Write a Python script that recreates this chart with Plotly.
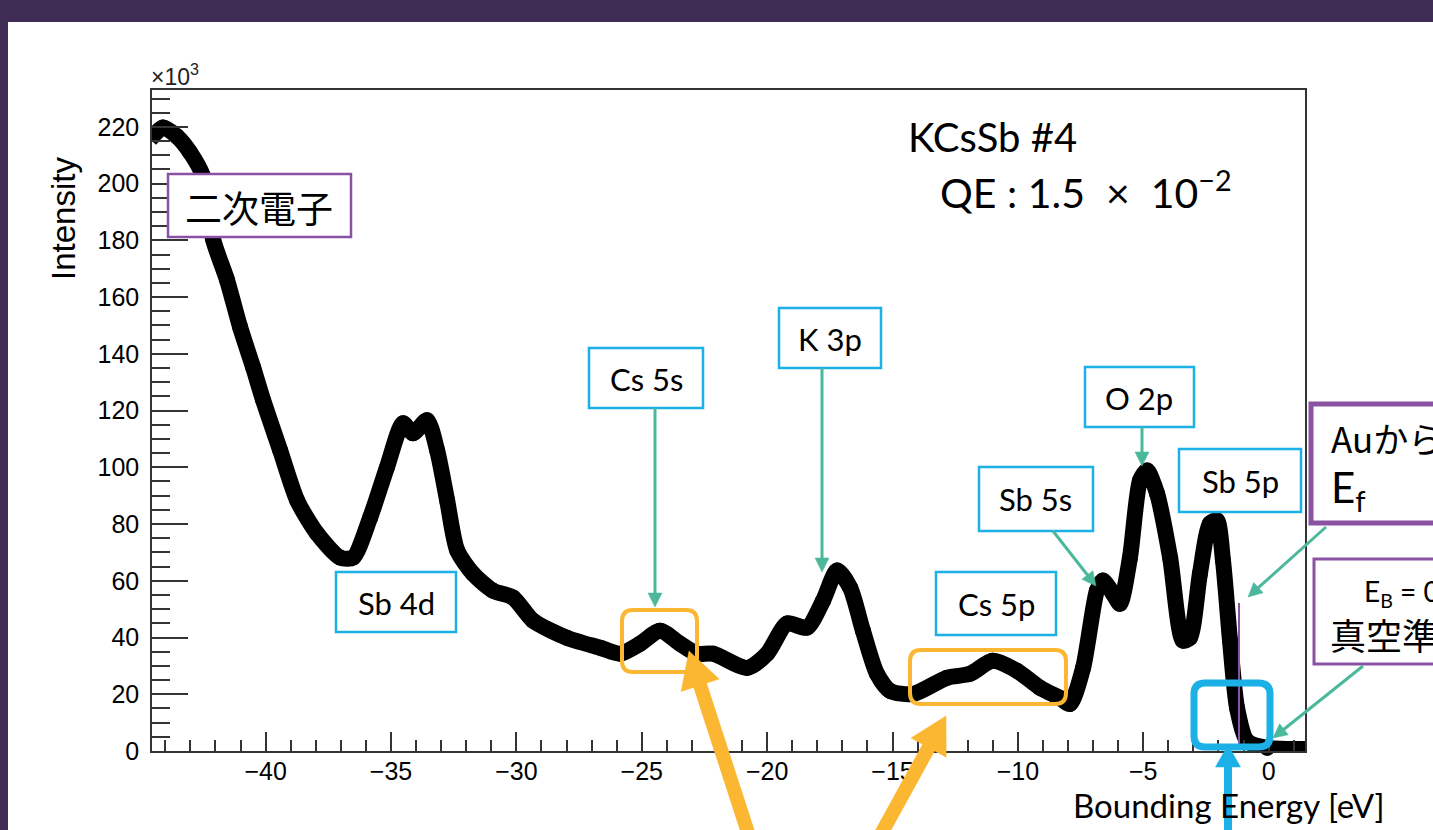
import plotly.graph_objects as go

# ---- data (binding energy [eV], intensity [x10^3]) ----
energy = [-44.61, -44.09, -43.53, -43.01, -42.49, -42.09, -41.54, -41.02, -40.50, -40.10,
          -39.42, -38.74, -37.95, -37.03, -36.51, -35.83, -35.16, -34.52, -34.12, -33.56,
          -33.16, -32.76, -32.36, -31.73, -30.93, -30.13, -29.33, -27.98, -26.66, -25.86,
          -25.07, -24.27, -23.47, -22.80, -22.16, -20.80, -20.00, -19.21, -18.41, -17.77,
          -17.21, -16.69, -16.18, -15.62, -15.10, -14.18, -12.83, -11.91, -11.01, -10.04,
          -9.12, -8.32, -7.92, -7.40, -6.85, -6.61, -6.21, -5.93, -5.53, -5.13,
          -4.85, -4.45, -3.93, -3.42, -3.14, -2.74, -2.34, -2.06, -1.82, -1.54,
          -1.26, -0.86, -0.06, 1.53]
intensity = [215.5, 219.8, 216.6, 211.0, 202.5, 180.2, 166.1, 149.5, 135.3, 123.7,
             106.0, 88.3, 76.7, 68.2, 68.2, 82.3, 100.0, 115.5, 112.0, 116.6,
             106.0, 88.3, 70.7, 62.5, 56.5, 54.1, 45.9, 39.9, 36.4, 34.3,
             37.8, 42.4, 37.8, 34.3, 34.3, 29.3, 34.3, 44.9, 43.5, 53.0,
             63.6, 57.6, 42.4, 27.2, 21.2, 20.1, 25.8, 27.2, 31.8, 28.3,
             22.3, 18.7, 16.6, 29.3, 56.5, 60.1, 55.5, 51.9, 68.2, 95.4,
             98.9, 90.8, 68.2, 38.9, 39.9, 62.5, 80.2, 81.3, 67.1, 38.9,
             15.2, 3.5, 1.1, 0.7]

x_ticks = [-40, -35, -30, -25, -20, -15, -10, -5, 0]
y_ticks = [0, 20, 40, 60, 80, 100, 120, 140, 160, 180, 200, 220]
x_range = [-44.53, 1.45]
y_range = [0, 233]

# ---- layout geometry (pixels) ----
W, H = 1433, 830
L, R, T, B = 152, 1305, 90, 751


def px(x):
    return (x - L) / (R - L)


def py(y):
    return (B - y) / (B - T)


ORANGE = "#FBB731"
CYAN = "#1BB0E6"
TEAL = "#4BB89B"
PURPLE = "#8A52A2"
TXT_FONT = "Lato"
CJK = "Noto Sans CJK JP"

fig = go.Figure()
fig.add_trace(go.Scatter(
    x=energy, y=intensity, mode="lines+markers",
    line=dict(color="black", width=16, shape="spline", smoothing=0.7),
    marker=dict(color="black", size=16),
    cliponaxis=False, showlegend=False, hoverinfo="skip"))

shapes = []
annotations = []

# white slide panel
shapes.append(dict(type="rect", xref="paper", yref="paper", layer="below",
                   x0=px(8), x1=px(1445), y0=py(845), y1=py(22),
                   fillcolor="white", line=dict(width=0)))


def box(x0, y0, x1, y1, color, lw):
    shapes.append(dict(type="rect", xref="paper", yref="paper", layer="above",
                       x0=px(x0), x1=px(x1), y0=py(y1), y1=py(y0),
                       fillcolor="white", line=dict(color=color, width=lw)))


def text(x, y, s, size, font=TXT_FONT, xanchor="center", align="center"):
    annotations.append(dict(xref="paper", yref="paper", x=px(x), y=py(y), text=s,
                            showarrow=False, xanchor=xanchor, yanchor="middle", align=align,
                            font=dict(family=font, size=size, color="black")))


def rrect(x0, y0, x1, y1, r, color, lw):
    def P(a, b):
        return f"{px(a):.5f},{py(b):.5f}"
    d = (f"M{P(x0 + r, y0)} L{P(x1 - r, y0)} Q{P(x1, y0)} {P(x1, y0 + r)} "
         f"L{P(x1, y1 - r)} Q{P(x1, y1)} {P(x1 - r, y1)} L{P(x0 + r, y1)} "
         f"Q{P(x0, y1)} {P(x0, y1 - r)} L{P(x0, y0 + r)} Q{P(x0, y0)} {P(x0 + r, y0)} Z")
    shapes.append(dict(type="path", xref="paper", yref="paper", layer="above", path=d,
                       line=dict(color=color, width=lw)))


def arrow(tail, tip, shaft_w, head_len, head_w, color):
    (tx, ty), (hx, hy) = tail, tip
    dx, dy = hx - tx, hy - ty
    n = (dx * dx + dy * dy) ** 0.5
    ux, uy = dx / n, dy / n
    bx, by = hx - ux * head_len, hy - uy * head_len
    nx, ny = -uy, ux
    shapes.append(dict(type="line", xref="paper", yref="paper", layer="above",
                       x0=px(tx), y0=py(ty), x1=px(bx + ux * 2), y1=py(by + uy * 2),
                       line=dict(color=color, width=shaft_w)))
    c1 = (bx + nx * head_w / 2, by + ny * head_w / 2)
    c2 = (bx - nx * head_w / 2, by - ny * head_w / 2)
    d = (f"M{px(hx):.5f},{py(hy):.5f} L{px(c1[0]):.5f},{py(c1[1]):.5f} "
         f"L{px(c2[0]):.5f},{py(c2[1]):.5f} Z")
    shapes.append(dict(type="path", xref="paper", yref="paper", layer="above", path=d,
                       fillcolor=color, line=dict(color=color, width=0.5)))


# purple vertical marker line
shapes.append(dict(type="line", xref="paper", yref="paper", layer="above",
                   x0=px(1239), x1=px(1239), y0=py(747), y1=py(603),
                   line=dict(color=PURPLE, width=2)))

# highlight rectangles
rrect(622, 610, 697, 672, 11, ORANGE, 4)
rrect(910, 650, 1066, 704, 11, ORANGE, 4)
rrect(1194, 683, 1270, 747, 11, CYAN, 7)

# label boxes
box(168, 174, 351, 237, PURPLE, 2.5)
text(259, 207, "二次電子", 37, CJK)
box(336, 572, 456, 632, CYAN, 2.5)
text(396, 603, "Sb 4d", 31)
box(589, 348, 703, 408, CYAN, 2.5)
text(646, 379, "Cs 5s", 31)
box(779, 308, 881, 368, CYAN, 2.5)
text(830, 339, "K 3p", 31)
box(1085, 367, 1194, 427, CYAN, 2.5)
text(1139, 398, "O 2p", 31)
box(979, 467, 1093, 531, CYAN, 2.5)
text(1035, 499, "Sb 5s", 31)
box(936, 572, 1056, 635, CYAN, 2.5)
text(996, 604, "Cs 5p", 31)
box(1179, 449, 1301, 512, CYAN, 2.5)
text(1240, 481, "Sb 5p", 31)
box(1311, 404, 1480, 523, PURPLE, 5)
text(1329, 437, "Auから", 35, CJK, xanchor="left")
text(1329, 490, "E<sub>f</sub>", 42, xanchor="left")
box(1314, 559, 1490, 664, PURPLE, 3)
text(1402, 593, "E<sub>B</sub> = 0", 28)
text(1402, 634, "真空準位", 36, CJK)

# teal pointer arrows
arrow((655, 408), (655, 607), 3, 14, 14, TEAL)
arrow((822, 368), (822, 572), 3, 14, 14, TEAL)
arrow((1142, 427), (1142, 466), 3, 14, 14, TEAL)
arrow((1053, 531), (1096, 586), 3, 14, 14, TEAL)
arrow((1326, 527), (1248, 597), 3, 14, 14, TEAL)
arrow((1363, 666), (1273, 738), 3, 14, 14, TEAL)

# big arrows
arrow((752, 845), (689, 651), 14, 36, 40, ORANGE)
arrow((875, 845), (946, 716), 14, 36, 40, ORANGE)
arrow((1228, 845), (1228, 745), 8, 22, 25, CYAN)

# plot texts
text(906, 137, "KCsSb #4", 40, xanchor="left")
text(938, 190, "QE : 1.5 &nbsp;×&nbsp; 10<sup>−2</sup>", 41, xanchor="left")
text(1387, 805, "Bounding Energy [eV]", 33, xanchor="right")
annotations.append(dict(xref="paper", yref="paper", x=px(149), y=py(75),
                        text="×10<sup>3</sup>", showarrow=False, xanchor="left", yanchor="middle",
                        font=dict(family="Liberation Sans", size=23, color="#222")))
annotations.append(dict(xref="paper", yref="paper", x=px(63), y=py(219),
                        text="Intensity", textangle=-90, showarrow=False,
                        xanchor="center", yanchor="middle",
                        font=dict(family="Liberation Sans", size=33, color="black")))

axis_font = dict(family="Liberation Sans", size=25, color="black")
fig.update_layout(
    width=W, height=H,
    margin=dict(l=L, r=W - R, t=T, b=H - B, pad=0),
    paper_bgcolor="#3e2c55",
    plot_bgcolor="white",
    shapes=shapes, annotations=annotations,
    xaxis=dict(range=x_range, tickvals=x_ticks, ticktext=[f"−{abs(v)}" if v < 0 else str(v) for v in x_ticks],
               ticks="inside", ticklen=19, tickwidth=1.5, tickcolor="#333",
               minor=dict(ticks="inside", ticklen=11, dtick=1, tick0=0, tickwidth=1.5, tickcolor="#333"),
               showline=True, linecolor="#333", linewidth=1.5, mirror=True,
               showgrid=False, zeroline=False, tickfont=axis_font, ticklabelstandoff=-3),
    yaxis=dict(range=y_range, tickvals=y_ticks,
               ticks="inside", ticklen=36, tickwidth=1.5, tickcolor="#333",
               minor=dict(ticks="inside", ticklen=18, dtick=5, tick0=0, tickwidth=1.5, tickcolor="#333"),
               showline=True, linecolor="#333", linewidth=1.5, mirror=True,
               showgrid=False, zeroline=False, tickfont=axis_font, ticklabelstandoff=6),
)

fig.write_html("out.html", config={"displayModeBar": False},
               post_script="document.body.style.margin='0';document.body.style.overflow='hidden';")
